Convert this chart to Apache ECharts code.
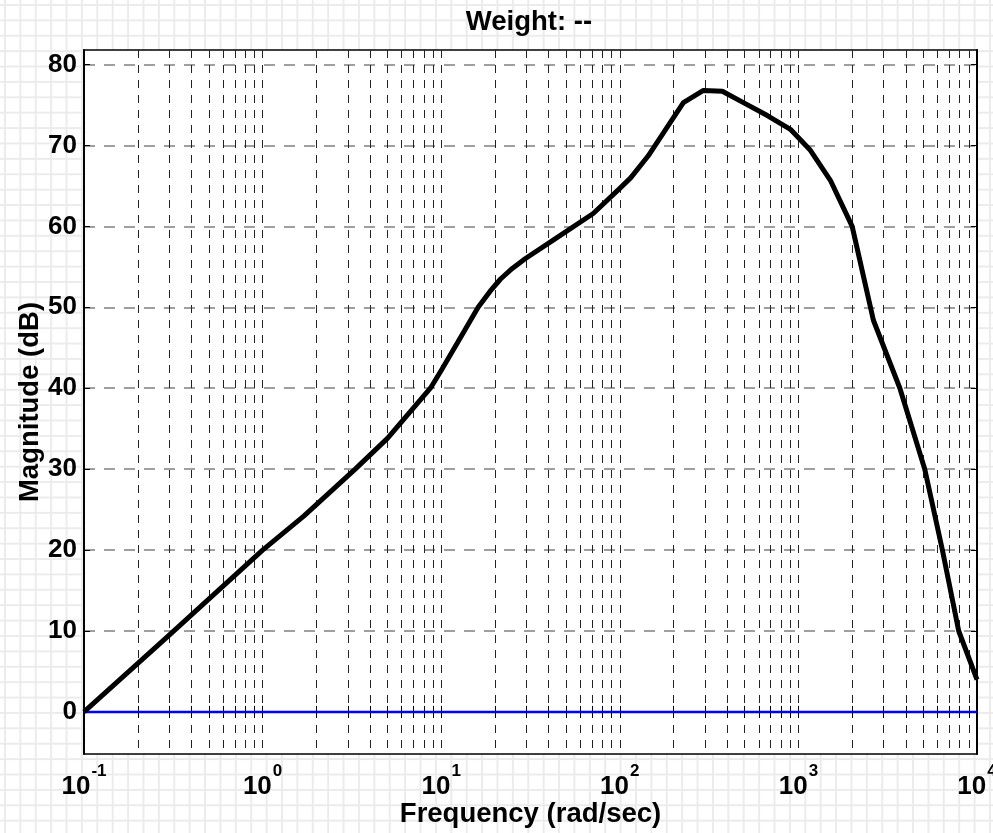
<!DOCTYPE html>
<html>
<head>
<meta charset="utf-8">
<script src="https://cdn.jsdelivr.net/npm/echarts@6/dist/echarts.min.js"></script>
<style>
  html, body {
    margin: 0;
    padding: 0;
  }
  body {
    background-color: #fff;
    background-image:
      linear-gradient(#ebebeb 2px, transparent 2px),
      linear-gradient(90deg, #ebebeb 2px, transparent 2px);
    background-size: 15.4px 15.4px;
    background-position: 4px 4px;
  }
  #chart { width: 993px; height: 833px; }
</style>
</head>
<body>
<div id="chart"></div>
<script>
// magnitude response
const freq = [0.1, 0.3, 1, 1.7, 3.3, 5, 8.7, 10, 13, 16.1, 18.8, 21.5, 25, 29.5, 43, 71, 100, 115, 144, 227, 294, 375, 492, 670, 902, 1167, 1510, 2000, 2630, 3700, 5100, 6400, 7900, 10000]
const magDb = [0, 9.5, 20, 24.2, 30, 33.8, 40, 42.2, 46.5, 50, 52, 53.5, 54.8, 56, 58.4, 61.6, 64.7, 66, 68.7, 75.3, 76.8, 76.7, 75.3, 73.7, 72, 69.4, 65.7, 60, 48.4, 40, 30, 20, 10, 4]

// 0 dB reference line
const refFreq = [0.1, 10000]
const refDb = [0, 0]

// axis ticks
const xDecades = [-1, 0, 1, 2, 3, 4]
const yTicks = [0, 10, 20, 30, 40, 50, 60, 70, 80]

const xMajor = xDecades.map(d => Math.pow(10, d))
const xAll = []
xDecades.forEach((d, i) => {
  const steps = i === xDecades.length - 1 ? 1 : 9
  for (let k = 1; k <= steps; k++) xAll.push(k * Math.pow(10, d))
})

const font = "'Liberation Sans', Arial, sans-serif"
const chart = echarts.init(document.getElementById('chart'))

const xBase = {
  type: 'log',
  logBase: 10,
  min: 0.1,
  max: 10000,
  axisLine: { show: true, lineStyle: { color: '#000', width: 2 } },
  axisTick: { show: true, inside: true, length: 6, customValues: xAll, lineStyle: { color: '#000', width: 1 } },
  minorTick: { show: false },
  minorSplitLine: { show: false }
}
const yBase = {
  type: 'value',
  min: -5.2,
  max: 81.8,
  axisLine: { show: true, lineStyle: { color: '#000', width: 2 } },
  axisTick: { show: true, inside: true, length: 6, customValues: yTicks, lineStyle: { color: '#000', width: 1 } }
}

chart.setOption({
  animation: false,
  textStyle: { fontFamily: font },
  title: {
    text: 'Weight: --',
    left: 524,
    top: 3,
    textAlign: 'center',
    textStyle: { fontFamily: font, fontSize: 27.5, fontWeight: 'bold', color: '#000' }
  },
  grid: {
    left: 84,
    right: 16,
    top: 50,
    bottom: 79,
    outerBoundsMode: 'none',
    containLabel: false,
    show: true,
    backgroundColor: '#fff',
    borderColor: '#000',
    borderWidth: 1.5
  },
  xAxis: [
    Object.assign({}, xBase, {
      position: 'bottom',
      name: 'Frequency (rad/sec)',
      nameLocation: 'middle',
      nameGap: 46,
      nameMoveOverlap: false,
      nameTextStyle: { fontFamily: font, fontSize: 27.5, fontWeight: 'bold', color: '#000' },
      axisLabel: {
        show: true,
        customValues: xMajor,
        margin: 9,
        formatter: v => '{b|10}{s|' + Math.round(Math.log10(v)) + '}',
        rich: {
          b: { fontFamily: font, fontSize: 26, fontWeight: 'bold', color: '#000', lineHeight: 26, padding: [22, 0, 0, 0] },
          s: { fontFamily: font, fontSize: 17, fontWeight: 'bold', color: '#000', lineHeight: 17, verticalAlign: 'top', padding: [0, 0, 0, 1] }
        }
      },
      splitLine: {
        show: true,
        lineStyle: { color: '#222', width: 1, type: [8, 7] }
      }
    }),
    Object.assign({}, xBase, {
      position: 'top',
      axisLabel: { show: false },
      splitLine: { show: false }
    })
  ],
  yAxis: [
    Object.assign({}, yBase, {
      position: 'left',
      name: 'Magnitude (dB)',
      nameLocation: 'middle',
      nameGap: 40,
      nameMoveOverlap: false,
      nameTextStyle: { fontFamily: font, fontSize: 27.5, fontWeight: 'bold', color: '#000' },
      axisLabel: {
        show: true,
        customValues: yTicks,
        margin: 7,
        fontFamily: font,
        fontSize: 26,
        fontWeight: 'bold',
        color: '#000'
      },
      splitLine: {
        show: true,
        lineStyle: { color: '#808080', width: 1.5, type: [11, 9] }
      }
    }),
    Object.assign({}, yBase, {
      position: 'right',
      axisLabel: { show: false },
      splitLine: { show: false }
    })
  ],
  series: [
    {
      name: '0 dB',
      type: 'line',
      xAxisIndex: 0,
      yAxisIndex: 0,
      data: refFreq.map((f, i) => [f, refDb[i]]),
      symbol: 'none',
      lineStyle: { color: '#0000ff', width: 2.5 },
      z: 3
    },
    {
      name: 'Magnitude',
      type: 'line',
      xAxisIndex: 0,
      yAxisIndex: 0,
      data: freq.map((f, i) => [f, magDb[i]]),
      symbol: 'none',
      smooth: false,
      lineStyle: { color: '#000', width: 5, join: 'round' },
      z: 4
    }
  ]
})
</script>
</body>
</html>
